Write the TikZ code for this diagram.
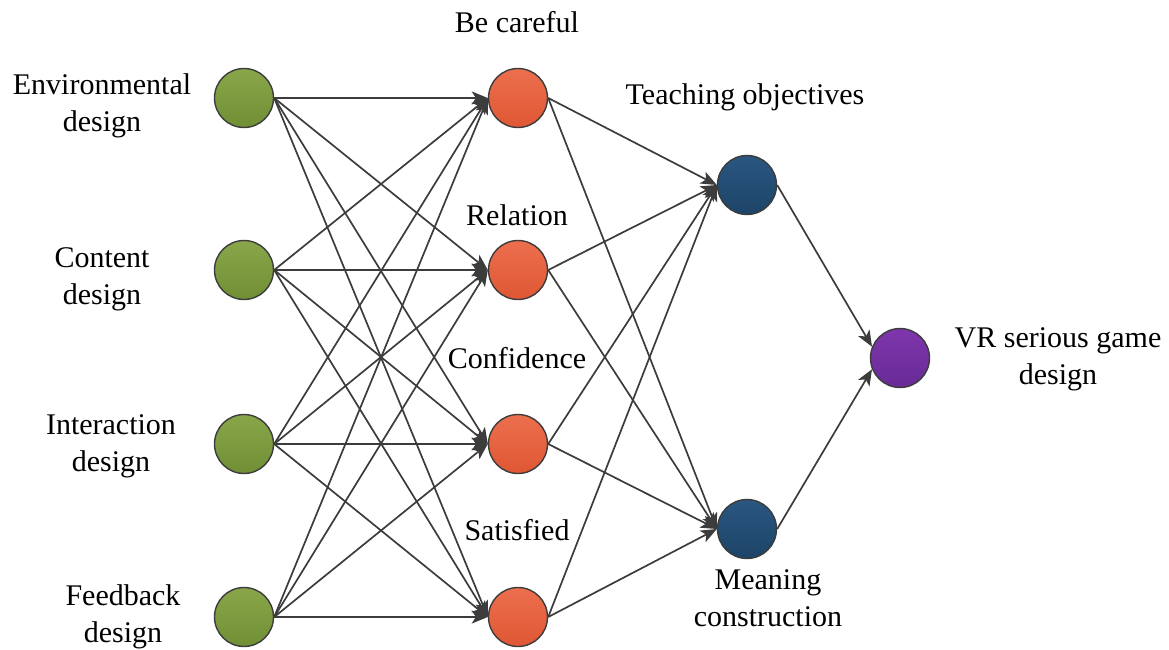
\documentclass[tikz,border=0pt]{standalone}
\usepackage{fontspec}
\setmainfont{Liberation Serif}
\usetikzlibrary{arrows.meta}
\definecolor{edgegray}{HTML}{3C3C3C}
\definecolor{greentop}{HTML}{89A64A}
\definecolor{greenbot}{HTML}{708F34}
\definecolor{redtop}{HTML}{EC6F4E}
\definecolor{redbot}{HTML}{DF5734}
\definecolor{bluetop}{HTML}{2A5680}
\definecolor{bluebot}{HTML}{1D4468}
\definecolor{purptop}{HTML}{7E36AC}
\definecolor{purpbot}{HTML}{682A96}
\begin{document}
\begin{tikzpicture}[x=1pt,y=-1pt,
  unit/.style={circle,draw=edgegray,line width=1.4pt,minimum size=59pt,inner sep=0pt},
  inputunit/.style={unit,top color=greentop,bottom color=greenbot},
  hiddenunit/.style={unit,top color=redtop,bottom color=redbot},
  goalunit/.style={unit,top color=bluetop,bottom color=bluebot},
  outunit/.style={unit,top color=purptop,bottom color=purpbot},
  lbl/.style={align=center,inner sep=0pt,font=\fontsize{30}{37}\selectfont},
  link/.style={draw=edgegray,line width=1.7pt,-{Stealth[length=16pt,width=13pt,inset=4pt]}}]
\useasboundingbox (0,0) rectangle (1169,650);

% input layer
\node[inputunit] (g1) at (244,98) {};
\node[inputunit] (g2) at (244,270) {};
\node[inputunit] (g3) at (244,444) {};
\node[inputunit] (g4) at (244,617) {};

% second layer
\node[hiddenunit] (r1) at (518,98) {};
\node[hiddenunit] (r2) at (518,270) {};
\node[hiddenunit] (r3) at (518,444) {};
\node[hiddenunit] (r4) at (518,617) {};

% third layer
\node[goalunit] (b1) at (747,185) {};
\node[goalunit] (b2) at (747,529) {};

% output
\node[outunit] (p) at (900,358) {};

% labels
\node[lbl] (lg1) at (102,106) {Environmental\\design};
\node[lbl] (lg2) at (102,279) {Content\\design};
\node[lbl] (lg3) at (111,446) {Interaction\\design};
\node[lbl] (lg4) at (123,617) {Feedback\\design};
\node[lbl] (lr1) at (517,22) {Be careful};
\node[lbl] (lr2) at (517,215) {Relation};
\node[lbl] (lr3) at (517,358) {Confidence};
\node[lbl] (lr4) at (517,530) {Satisfied};
\node[lbl] (lb1) at (745,97) {Teaching objectives};
\node[lbl] (lb2) at (768,598) {Meaning\\construction};
\node[lbl] (lp) at (1058,359) {VR serious game\\design};

% connections
\foreach \i in {1,...,4}{
  \foreach \j in {1,...,4}{
    \draw[link] (g\i.east) -- (r\j.west);
  }
  \foreach \j in {1,2}{
    \draw[link] (r\i.east) -- (b\j.west);
  }
}
\draw[link] (b1.east) -- (p.158);
\draw[link] (b2.east) -- (p.202);
\end{tikzpicture}
\end{document}
